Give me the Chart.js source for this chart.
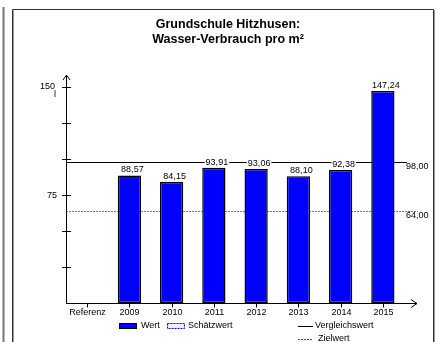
<!DOCTYPE html>
<html>
<head>
<meta charset="utf-8">
<script src="https://cdn.jsdelivr.net/npm/chart.js@4"></script>
<style>
  html, body { margin: 0; padding: 0; background: #fff; }
  #wrap { width: 440px; height: 342px; }
</style>
</head>
<body>
<div id="wrap"><canvas id="waterChart" width="440" height="342"></canvas></div>
<script>
const categories = ['Referenz', '2009', '2010', '2011', '2012', '2013', '2014', '2015'];
const values = [null, 88.57, 84.15, 93.91, 93.06, 88.10, 92.38, 147.24];
const vergleichswert = 98.00;
const zielwert = 64.00;
const yTicks = [0, 25, 50, 75, 100, 125, 150];
const yLabels = { 75: '75', 150: '150' };
const titleLines = ['Grundschule Hitzhusen:', 'Wasser-Verbrauch pro m²'];

const FONT = 'Arial, "Liberation Sans", sans-serif';
const fmt = v => v.toFixed(2).replace('.', ',');

// frame, title and reference lines go behind the bars
const background = {
  id: 'background',
  beforeDatasetsDraw(chart) {
    const { ctx, chartArea: a, scales: { y } } = chart;
    ctx.save();

    // frame
    ctx.strokeStyle = '#777';
    ctx.lineWidth = 2;
    ctx.beginPath();
    ctx.moveTo(3.5, 7); ctx.lineTo(3.5, 342);
    ctx.stroke();
    ctx.strokeStyle = '#333';
    ctx.lineWidth = 1;
    ctx.beginPath();
    ctx.moveTo(12.5, 342); ctx.lineTo(12.5, 9.5); ctx.lineTo(433.5, 9.5); ctx.lineTo(433.5, 342);
    ctx.stroke();
    ctx.strokeStyle = '#999';
    ctx.beginPath();
    ctx.moveTo(13.5, 342); ctx.lineTo(13.5, 10.5);
    ctx.moveTo(434.5, 10); ctx.lineTo(434.5, 342);
    ctx.stroke();

    // title
    ctx.fillStyle = '#000';
    ctx.font = 'bold 12.5px ' + FONT;
    ctx.textAlign = 'center';
    ctx.textBaseline = 'middle';
    ctx.fillText(titleLines[0], 228, 25);
    ctx.fillText(titleLines[1], 228, 40);

    // reference lines
    const yv = y.getPixelForValue(vergleichswert);
    const yz = y.getPixelForValue(zielwert);
    ctx.strokeStyle = '#000';
    ctx.lineWidth = 1;
    ctx.beginPath();
    ctx.moveTo(a.left, Math.round(yv) + 0.5);
    ctx.lineTo(407, Math.round(yv) + 0.5);
    ctx.stroke();
    ctx.strokeStyle = '#777';
    ctx.setLineDash([2, 1]);
    ctx.beginPath();
    ctx.moveTo(a.left, Math.round(yz) + 0.5);
    ctx.lineTo(418, Math.round(yz) + 0.5);
    ctx.stroke();
    ctx.setLineDash([]);

    ctx.font = '9px ' + FONT;
    ctx.fillStyle = '#000';
    ctx.textAlign = 'left';
    ctx.fillText(fmt(vergleichswert), 406, yv + 5);
    ctx.fillText(fmt(zielwert), 406, yz + 5);
    ctx.restore();
  }
};

// value labels, axes and legend on top
const overlay = {
  id: 'overlay',
  afterDatasetsDraw(chart) {
    const { ctx, chartArea: a, scales: { x, y } } = chart;
    ctx.save();
    ctx.font = '9px ' + FONT;

    // value labels above bars (white backing so the line breaks around them)
    ctx.textAlign = 'center';
    ctx.textBaseline = 'bottom';
    values.forEach((v, i) => {
      if (v == null) return;
      const px = x.getPixelForValue(i) + 3;
      const py = y.getPixelForValue(v) - 1;
      const s = fmt(v);
      const w = ctx.measureText(s).width;
      ctx.fillStyle = '#fff';
      ctx.fillRect(px - w / 2 - 1, py - 9, w + 2, 8);
      ctx.fillStyle = '#000';
      ctx.fillText(s, px, py);
    });

    // y axis with arrow
    ctx.strokeStyle = '#000';
    ctx.lineWidth = 1;
    ctx.beginPath();
    ctx.moveTo(a.left + 0.5, a.bottom);
    ctx.lineTo(a.left + 0.5, 75);
    ctx.moveTo(a.left - 3, 80); ctx.lineTo(a.left + 0.5, 75); ctx.lineTo(a.left + 4, 80);
    ctx.stroke();
    yTicks.forEach(t => {
      if (t === 0) return;
      const py = Math.round(y.getPixelForValue(t)) + 0.5;
      ctx.beginPath();
      ctx.moveTo(a.left - 4, py); ctx.lineTo(a.left + 5, py);
      ctx.stroke();
      if (yLabels[t]) {
        ctx.fillStyle = '#000';
        ctx.textAlign = 'right';
        ctx.textBaseline = 'middle';
        ctx.fillText(yLabels[t], t === 150 ? a.left - 11 : a.left - 9, t === 150 ? py - 1 : py);
      }
    });
    ctx.textAlign = 'center';
    ctx.fillText('l', 55, 95);

    // x axis with arrow
    const bx = Math.round(a.bottom) + 0.5;
    ctx.beginPath();
    ctx.moveTo(a.left, bx);
    ctx.lineTo(417, bx);
    ctx.moveTo(411, bx - 4); ctx.lineTo(417, bx); ctx.lineTo(411, bx + 4);
    ctx.stroke();
    ctx.textBaseline = 'middle';
    categories.forEach((c, i) => {
      const px = Math.round(x.getPixelForValue(i)) + 0.5;
      ctx.beginPath();
      ctx.moveTo(px, bx); ctx.lineTo(px, bx + 4);
      ctx.stroke();
      ctx.fillText(c, px, 313);
    });

    // legend
    const ly = 326;
    ctx.fillStyle = '#0000ff';
    ctx.strokeStyle = '#000';
    ctx.fillRect(119, ly - 3, 17, 5);
    ctx.strokeRect(119.5, ly - 2.5, 17, 5);
    ctx.fillStyle = '#000';
    ctx.textAlign = 'left';
    ctx.fillText('Wert', 141, ly);

    ctx.fillStyle = '#eef';
    ctx.fillRect(167, ly - 3, 17, 5);
    ctx.strokeStyle = '#0000ff';
    ctx.setLineDash([2, 1]);
    ctx.strokeRect(167.5, ly - 2.5, 17, 5);
    ctx.setLineDash([]);
    ctx.fillStyle = '#000';
    ctx.fillText('Schätzwert', 188, ly);

    ctx.strokeStyle = '#000';
    ctx.beginPath();
    ctx.moveTo(298, ly + 0.5); ctx.lineTo(313, ly + 0.5);
    ctx.stroke();
    ctx.fillText('Vergleichswert', 315, ly);

    ctx.strokeStyle = '#555';
    ctx.setLineDash([2, 1]);
    ctx.beginPath();
    ctx.moveTo(298, 339.5); ctx.lineTo(313, 339.5);
    ctx.stroke();
    ctx.setLineDash([]);
    ctx.fillText('Zielwert', 318, 339);

    ctx.restore();
  }
};

new Chart(document.getElementById('waterChart'), {
  type: 'bar',
  data: {
    labels: categories,
    datasets: [{
      label: 'Wert',
      data: values,
      backgroundColor: '#0000ff',
      borderColor: '#000',
      borderWidth: 1.5,
      borderSkipped: false,
      categoryPercentage: 1,
      barPercentage: 0.55
    }]
  },
  options: {
    responsive: false,
    animation: false,
    devicePixelRatio: 1,
    layout: { padding: { left: 66, right: 36, top: 87, bottom: 39 } },
    scales: {
      x: { display: false },
      y: { display: false, min: 0, max: 150 }
    },
    plugins: {
      legend: { display: false },
      title: { display: false },
      tooltip: { enabled: false }
    }
  },
  plugins: [background, overlay]
});
</script>
</body>
</html>
